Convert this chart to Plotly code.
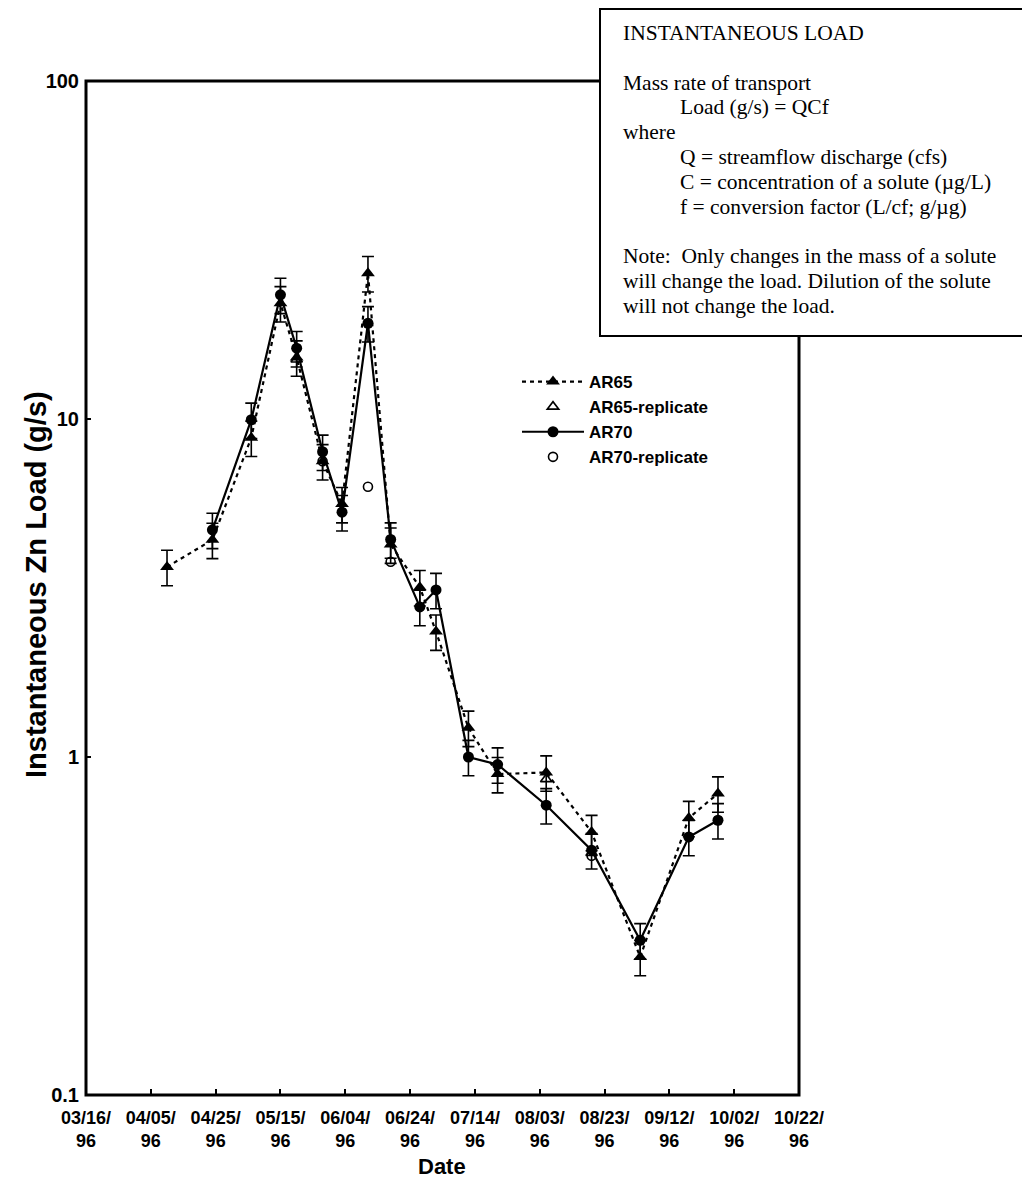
import plotly.graph_objects as go

# ---------------- data ----------------
ar65_dates = ["1996-04-10", "1996-04-24", "1996-05-06", "1996-05-15", "1996-05-20",
              "1996-05-28", "1996-06-03", "1996-06-11", "1996-06-18", "1996-06-27",
              "1996-07-02", "1996-07-12", "1996-07-21", "1996-08-05", "1996-08-19",
              "1996-09-03", "1996-09-18", "1996-09-27"]
ar65_load = [3.65, 4.39, 8.8, 22.0, 15.2, 7.5, 5.6, 27.0, 4.25, 3.18,
             2.35, 1.22, 0.89, 0.90, 0.60, 0.256, 0.66, 0.78]

ar70_dates = ["1996-04-24", "1996-05-06", "1996-05-15", "1996-05-20", "1996-05-28",
              "1996-06-03", "1996-06-11", "1996-06-18", "1996-06-27", "1996-07-02",
              "1996-07-12", "1996-07-21", "1996-08-05", "1996-08-19", "1996-09-03",
              "1996-09-18", "1996-09-27"]
ar70_load = [4.7, 9.95, 23.3, 16.2, 8.0, 5.3, 19.2, 4.4, 2.78, 3.12,
             1.0, 0.95, 0.72, 0.53, 0.287, 0.58, 0.65]

ar65_rep_dates = ["1996-05-20", "1996-08-05", "1996-08-19"]
ar65_rep_load = [15.0, 0.86, 0.52]

ar70_rep_dates = ["1996-05-28", "1996-06-11", "1996-06-18", "1996-08-19"]
ar70_rep_load = [7.5, 6.3, 3.78, 0.51]

error_pct = 12

x_tickvals = ["1996-03-16", "1996-04-05", "1996-04-25", "1996-05-15", "1996-06-04",
              "1996-06-24", "1996-07-14", "1996-08-03", "1996-08-23", "1996-09-12",
              "1996-10-02", "1996-10-22"]
x_ticktext = ["03/16/<br>96", "04/05/<br>96", "04/25/<br>96", "05/15/<br>96", "06/04/<br>96",
              "06/24/<br>96", "07/14/<br>96", "08/03/<br>96", "08/23/<br>96", "09/12/<br>96",
              "10/02/<br>96", "10/22/<br>96"]
y_tickvals = [0.1, 1, 10, 100]
y_ticktext = ["0.1", "1", "10", "100"]

box_lines = [
    ("INSTANTANEOUS LOAD", 0),
    ("", 0),
    ("Mass rate of transport", 0),
    ("Load (g/s) = QCf", 1),
    ("where", 0),
    ("Q = streamflow discharge (cfs)", 1),
    ("C = concentration of a solute (µg/L)", 1),
    ("f = conversion factor (L/cf; g/µg)", 1),
    ("", 0),
    ("Note:\u00a0 Only changes in the mass of a solute", 0),
    ("will change the load. Dilution of the solute", 0),
    ("will not change the load.", 0),
]

# ---------------- figure ----------------
SANS = "Liberation Sans, Arial, sans-serif"
SERIF = "Liberation Serif, Times New Roman, serif"

OFF = 8  # page body margin
W, H = 1022, 1176
L, T = 78, 73
pw, ph = 713, 1014
R, B = W - L - pw, H - T - ph


def px_x(x):  # picture pixel -> paper
    return (x - OFF - L) / pw


def px_y(y):
    return (T + ph - (y - OFF)) / ph


fig = go.Figure()

err = dict(type="percent", value=error_pct, color="black", thickness=1.6, width=6)

fig.add_trace(go.Scatter(
    x=ar65_dates, y=ar65_load, name="<b>AR65</b>", mode="lines+markers",
    line=dict(color="black", width=2.2, dash="4px,4px"),
    marker=dict(symbol="triangle-up", size=12, color="black"),
    error_y=err))
fig.add_trace(go.Scatter(
    x=ar65_rep_dates, y=ar65_rep_load, name="<b>AR65-replicate</b>", mode="markers",
    marker=dict(symbol="triangle-up-open", size=10, color="black", line=dict(width=1.6))))
fig.add_trace(go.Scatter(
    x=ar70_dates, y=ar70_load, name="<b>AR70</b>", mode="lines+markers",
    line=dict(color="black", width=2.2),
    marker=dict(symbol="circle", size=11, color="black"),
    error_y=err))
fig.add_trace(go.Scatter(
    x=ar70_rep_dates, y=ar70_rep_load, name="<b>AR70-replicate</b>", mode="markers",
    marker=dict(symbol="circle-open", size=9, color="black", line=dict(width=1.6))))

shapes = [
    dict(type="rect", xref="paper", yref="paper", x0=0, x1=1, y0=0, y1=1,
         line=dict(color="black", width=3), fillcolor="rgba(0,0,0,0)", layer="above"),
    dict(type="rect", xref="paper", yref="paper",
         x0=px_x(600), x1=px_x(1026), y0=px_y(336), y1=px_y(9),
         line=dict(color="black", width=2), fillcolor="white", layer="above"),
]

annotations = []
y0 = 33
for i, (txt, indent) in enumerate(box_lines):
    if not txt:
        continue
    annotations.append(dict(
        xref="paper", yref="paper", x=px_x(621 + 57 * indent), y=px_y(y0 + i * 24.8),
        xanchor="left", yanchor="middle", showarrow=False, text=txt,
        font=dict(family=SERIF, size=21.5, color="black")))

# axis titles
annotations.append(dict(
    xref="paper", yref="paper", x=px_x(36), y=px_y(585), xanchor="center", yanchor="middle",
    textangle=-90, showarrow=False, text="<b>Instantaneous Zn Load (g/s)</b>",
    font=dict(family=SANS, size=29, color="black")))
annotations.append(dict(
    xref="paper", yref="paper", x=px_x(442), y=px_y(1166), xanchor="center", yanchor="middle",
    showarrow=False, text="<b>Date</b>",
    font=dict(family=SANS, size=22, color="black")))

fig.update_layout(
    width=W, height=H,
    margin=dict(l=L, r=R, t=T, b=B, autoexpand=False),
    paper_bgcolor="white", plot_bgcolor="white",
    showlegend=True,
    legend=dict(x=px_x(517), y=px_y(364), xanchor="left", yanchor="top",
                bgcolor="rgba(0,0,0,0)", borderwidth=0,
                font=dict(family=SANS, size=17, color="black"),
                itemwidth=62, traceorder="normal"),
    shapes=shapes, annotations=annotations,
    xaxis=dict(type="date", range=["1996-03-16", "1996-10-22"],
               tickmode="array", tickvals=x_tickvals, ticktext=x_ticktext,
               ticks="inside", ticklen=6, tickwidth=2, tickcolor="black",
               showgrid=False, zeroline=False, showline=False,
               ticklabelstandoff=10,
               tickfont=dict(family=SANS, size=18, color="black", weight="bold")),
    yaxis=dict(type="log", range=[-1, 2],
               tickmode="array", tickvals=y_tickvals, ticktext=y_ticktext,
               ticks="inside", ticklen=5, tickwidth=2, tickcolor="black",
               showgrid=False, zeroline=False, showline=False,
               ticklabelstandoff=6,
               tickfont=dict(family=SANS, size=20, color="black", weight="bold")),
)

fig.write_html("out.html")
